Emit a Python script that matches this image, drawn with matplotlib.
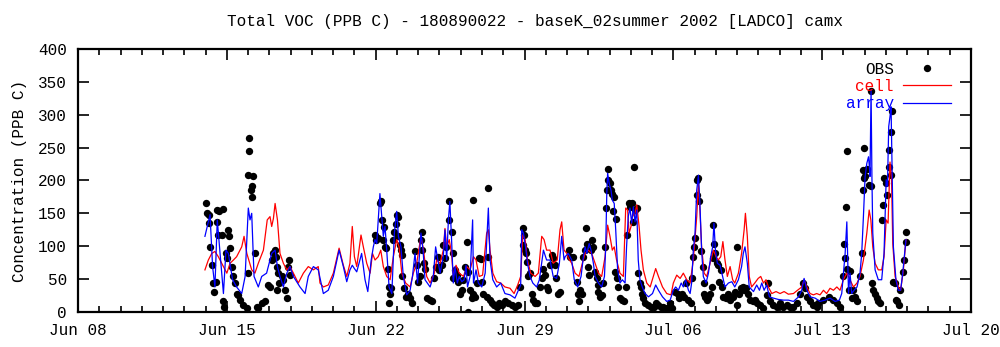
import numpy as np
import pandas as pd
import matplotlib
matplotlib.use("Agg")
import matplotlib.pyplot as plt
import matplotlib.dates as mdates

# time is given as days since 2002-06-08 00:00
t0 = pd.Timestamp("2002-06-08")

# ---- model "cell" (red)
cell_day = [5.97, 6.13, 6.29, 6.44, 6.60, 6.84, 7.00, 7.15, 7.31, 7.46, 7.70, 7.81, 7.94, 8.17, 8.32,
            8.48, 8.72, 8.90, 9.03, 9.11, 9.19, 9.27, 9.38, 9.50, 9.66, 9.82, 9.97, 10.13, 10.36, 10.60,
            10.83, 11.07, 11.30, 11.38, 11.54, 11.77, 12.01, 12.28, 12.48, 12.64, 12.79, 12.90, 13.00,
            13.11, 13.31, 13.42, 13.58, 13.74, 13.85, 13.97, 14.12, 14.24, 14.36, 14.52, 14.68, 14.83,
            14.99, 15.10, 15.23, 15.41, 15.62, 15.77, 15.93, 16.13, 16.25, 16.40, 16.56, 16.76, 16.87,
            17.03, 17.18, 17.26, 17.34, 17.46, 17.57, 17.65, 17.78, 17.93, 18.13, 18.28, 18.44, 18.60,
            18.72, 18.87, 19.03, 19.22, 19.30, 19.38, 19.51, 19.69, 19.88, 20.08, 20.32, 20.51, 20.68,
            20.82, 20.92, 21.03, 21.14, 21.29, 21.50, 21.65, 21.81, 21.92, 22.04, 22.20, 22.35, 22.54,
            22.67, 22.75, 22.86, 22.99, 23.06, 23.22, 23.38, 23.56, 23.72, 23.85, 24.00, 24.16, 24.32,
            24.48, 24.63, 24.79, 24.91, 25.02, 25.13, 25.22, 25.33, 25.49, 25.65, 25.76, 25.85, 25.92,
            26.01, 26.09, 26.17, 26.28, 26.39, 26.48, 26.59, 26.75, 26.91, 27.06, 27.17, 27.30, 27.49,
            27.69, 27.89, 28.00, 28.16, 28.32, 28.47, 28.63, 28.79, 28.94, 29.10, 29.18, 29.25, 29.33,
            29.45, 29.57, 29.73, 29.88, 30.01, 30.11, 30.23, 30.33, 30.43, 30.54, 30.67, 30.79, 30.89,
            31.06, 31.21, 31.33, 31.39, 31.48, 31.57, 31.68, 31.83, 31.99, 32.11, 32.24, 32.36, 32.47,
            32.63, 32.83, 33.02, 33.21, 33.41, 33.65, 33.84, 34.04, 34.15, 34.28, 34.43, 34.59, 34.74,
            34.90, 35.06, 35.21, 35.37, 35.53, 35.69, 35.84, 36.00, 36.16, 36.31, 36.47, 36.64, 36.78,
            36.94, 37.10, 37.21, 37.29, 37.38, 37.49, 37.64, 37.80, 37.91, 38.01, 38.10, 38.19, 38.26,
            38.32, 38.43, 38.58, 38.69, 38.82, 38.94]
cell_val = [64, 79, 89, 92, 84, 69, 59, 74, 79, 84, 99, 115, 89, 64, 59,
            74, 94, 140, 145, 130, 142, 165, 140, 89, 74, 64, 69, 59, 44, 59,
            69, 64, 69, 44, 38, 41, 59, 97, 71, 54, 74, 130, 84,
            69, 117, 99, 74, 59, 89, 79, 84, 94, 69, 54, 49, 84,
            110, 99, 59, 44, 38, 59, 74, 115, 94, 54, 44, 59, 79,
            74, 94, 127, 99, 110, 89, 54, 71, 59, 54, 69, 64, 84,
            79, 54, 56, 120, 125, 94, 59, 46, 44, 38, 36, 28, 41,
            54, 117, 110, 79, 59, 54, 59, 115, 110, 94, 94, 74, 79,
            125, 137, 94, 89, 82, 74, 59, 54, 74, 89, 94, 89, 74,
            59, 54, 84, 132, 115, 94, 99, 79, 59, 54, 158, 155, 120,
            130, 150, 145, 163, 130, 94, 64, 44, 38, 54, 66, 54, 38,
            28, 26, 44, 56, 51, 59, 49, 44, 79, 145, 196, 155, 99,
            59, 54, 74, 94, 84, 79, 84, 107, 79, 54, 69, 49, 44,
            59, 89, 125, 150, 115, 54, 38, 44, 51, 54, 44, 49, 38,
            28, 31, 28, 31, 27, 28, 33, 38, 49, 38, 28, 26, 28,
            26, 33, 28, 36, 33, 38, 33, 49, 59, 49, 38, 44, 54,
            79, 120, 155, 140, 99, 74, 64, 64, 84, 140, 135, 228, 206,
            104, 54, 38, 33, 64, 110]

# ---- model "array" (blue)
array_day = [5.97, 6.08, 6.21, 6.33, 6.44, 6.55, 6.71, 6.84, 6.96, 7.07, 7.27, 7.46, 7.70, 7.86, 8.01,
             8.09, 8.17, 8.28, 8.48, 8.64, 8.87, 9.11, 9.27, 9.38, 9.50, 9.66, 9.82, 9.97, 10.13, 10.44,
             10.68, 10.83, 11.07, 11.30, 11.54, 11.77, 12.01, 12.28, 12.48, 12.64, 12.79, 12.90, 13.00,
             13.11, 13.34, 13.50, 13.63, 13.79, 13.89, 13.97, 14.05, 14.20, 14.28, 14.36, 14.44, 14.52,
             14.63, 14.76, 14.88, 14.99, 15.07, 15.19, 15.30, 15.46, 15.62, 15.73, 15.85, 15.97, 16.13,
             16.23, 16.32, 16.56, 16.71, 16.82, 16.95, 17.03, 17.18, 17.26, 17.34, 17.42, 17.49, 17.57,
             17.65, 17.73, 17.84, 17.93, 18.05, 18.16, 18.25, 18.32, 18.44, 18.56, 18.60, 18.72, 18.83,
             18.99, 19.15, 19.30, 19.38, 19.51, 19.69, 19.88, 20.08, 20.32, 20.55, 20.71, 20.82, 20.87,
             20.95, 21.07, 21.14, 21.26, 21.39, 21.57, 21.70, 21.89, 22.04, 22.20, 22.35, 22.51, 22.64,
             22.75, 22.86, 22.91, 23.06, 23.22, 23.34, 23.50, 23.66, 23.77, 23.85, 23.93, 24.04, 24.13,
             24.24, 24.32, 24.48, 24.63, 24.76, 24.82, 24.87, 24.91, 24.98, 25.07, 25.13, 25.22, 25.29,
             25.38, 25.49, 25.60, 25.73, 25.80, 25.88, 25.96, 26.04, 26.12, 26.20, 26.28, 26.35, 26.43,
             26.54, 26.67, 26.83, 27.02, 27.17, 27.30, 27.49, 27.69, 27.85, 28.00, 28.11, 28.24, 28.37,
             28.47, 28.58, 28.71, 28.79, 28.86, 28.94, 29.02, 29.10, 29.18, 29.25, 29.33, 29.41, 29.54,
             29.65, 29.76, 29.85, 29.91, 29.98, 30.07, 30.20, 30.32, 30.43, 30.59, 30.75, 30.89, 31.06,
             31.21, 31.29, 31.37, 31.48, 31.57, 31.77, 31.92, 32.05, 32.16, 32.27, 32.39, 32.52, 32.71,
             32.94, 33.18, 33.41, 33.65, 33.89, 34.04, 34.15, 34.28, 34.43, 34.67, 34.90, 35.14, 35.37,
             35.61, 35.81, 35.92, 36.00, 36.08, 36.16, 36.24, 36.31, 36.39, 36.50, 36.64, 36.78, 36.86,
             36.94, 37.02, 37.10, 37.18, 37.22, 37.25, 37.30, 37.34, 37.38, 37.49, 37.64, 37.80, 37.91,
             38.01, 38.07, 38.13, 38.19, 38.24, 38.28, 38.35, 38.47, 38.58, 38.69, 38.79, 38.85, 38.94]
array_val = [115, 130, 148, 69, 38, 140, 79, 28, 94, 89, 49, 38, 28, 54, 158,
             140, 150, 54, 38, 54, 59, 89, 94, 69, 54, 38, 59, 69, 54, 38,
             28, 54, 69, 64, 28, 33, 54, 94, 69, 46, 64, 71, 66,
             61, 89, 49, 31, 79, 99, 110, 104, 180, 148, 115, 130, 94,
             38, 28, 120, 153, 115, 99, 54, 26, 33, 54, 89, 44, 120,
             94, 49, 38, 54, 99, 74, 59, 84, 125, 79, 140, 168, 110,
             44, 69, 44, 54, 46, 49, 71, 38, 54, 140, 44, 64, 44,
             38, 59, 158, 79, 49, 38, 44, 28, 26, 21, 33, 41, 125,
             120, 94, 74, 54, 44, 38, 49, 94, 79, 79, 54, 51, 74,
             115, 79, 84, 89, 79, 49, 38, 54, 84, 99, 89, 104, 94,
             74, 54, 44, 38, 54, 99, 180, 211, 196, 185, 170, 165, 125,
             64, 44, 49, 44, 99, 145, 158, 135, 160, 137, 155, 79, 49,
             38, 28, 23, 28, 41, 33, 23, 16, 18, 33, 38, 33, 44,
             38, 49, 33, 28, 44, 94, 120, 185, 208, 165, 94, 54, 44,
             59, 84, 99, 135, 94, 74, 71, 54, 38, 44, 46, 38, 49,
             69, 89, 99, 74, 38, 31, 41, 33, 44, 33, 41, 23, 21,
             19, 18, 18, 16, 23, 33, 51, 33, 23, 21, 16, 18, 21,
             16, 18, 28, 59, 89, 137, 28, 59, 28, 33, 38, 59, 89,
             145, 206, 226, 236, 221, 206, 338, 206, 120, 64, 49, 49, 89,
             201, 191, 282, 297, 312, 231, 99, 49, 33, 33, 59, 79, 110]

# ---- observations
obs_day = [6.02, 6.05, 6.18, 6.14, 6.21, 6.29, 6.37, 6.40, 6.49, 6.52, 6.65, 6.84, 6.55, 6.60, 6.76,
           7.07, 7.12, 7.15, 6.96, 7.02, 7.23, 7.27, 7.38, 6.84, 6.88, 7.46, 7.54, 7.62, 7.78, 7.93,
           8.01, 8.06, 8.03, 8.00, 8.22, 8.17, 8.14, 8.19, 8.33, 8.41, 8.48, 8.64, 8.80, 8.95, 9.03,
           9.11, 9.19, 9.27, 9.32, 9.35, 9.43, 9.47, 9.38, 9.58, 9.66, 9.74, 9.82, 9.89, 9.94, 9.97,
           13.97, 14.02, 14.10, 14.25, 14.21, 14.32, 14.40, 14.36, 14.44, 14.49, 14.57, 14.63, 14.68,
           14.63, 14.72, 14.83, 14.88, 14.94, 14.99, 15.04, 15.07, 15.15, 15.19, 15.22, 15.26, 15.35,
           15.41, 15.50, 15.62, 15.73, 15.85, 15.93, 16.01, 16.09, 16.13, 16.20, 16.16, 16.25, 16.32,
           16.43, 16.56, 16.64, 16.76, 16.82, 16.92, 16.98, 17.10, 17.16,
           17.26, 17.31, 17.47, 17.47, 17.58, 17.63, 17.65, 17.73, 17.81, 17.89, 17.97, 18.05, 18.13,
           18.21, 18.28, 18.36, 18.44, 18.52, 18.56, 18.60, 18.68, 18.75, 18.87, 18.94, 18.99, 19.07,
           19.22, 19.27, 19.30, 19.38, 19.46, 19.56, 19.69, 19.82, 19.93, 20.08, 20.24, 20.40, 20.55,
           20.71, 20.79, 20.91, 20.98, 20.95, 21.03, 21.07, 21.14, 21.18, 21.26, 21.34, 21.41, 21.50,
           21.57, 21.73, 21.81, 21.89, 21.96, 22.04, 22.12, 22.20, 22.28, 22.35, 22.43, 22.48, 22.59,
           22.67, 18.34,
           23.09, 23.14, 23.30, 23.46, 23.50, 23.56, 23.61, 23.69, 23.77, 23.89, 23.85, 23.93, 24.04,
           24.01, 24.13, 24.19, 24.24, 24.32, 24.40, 24.44, 24.48, 24.55, 24.63, 24.71, 24.79, 24.82,
           24.87, 24.91, 24.95, 25.02, 25.07, 25.13, 25.22, 25.18, 25.29, 25.26, 25.33, 25.41, 25.49,
           25.60, 25.70, 25.76, 25.84, 25.92, 25.96, 26.04, 26.09, 26.15, 26.20, 26.28, 26.35, 26.42,
           26.48, 26.53, 26.59, 26.67, 26.79, 26.95, 27.07, 27.17, 27.30, 27.42, 27.53, 27.69, 27.85,
           27.96, 28.08, 28.21, 28.27, 28.39, 28.52, 28.58, 28.71, 28.83,
           28.86, 28.94, 28.98, 29.02, 29.10, 29.13, 29.18, 29.23, 29.29, 29.38, 29.45, 29.42, 29.49,
           29.57, 29.65, 29.73, 29.80, 29.85, 29.88, 29.91, 29.96, 30.04, 30.12, 30.17, 30.23, 30.28,
           30.35, 30.48, 30.59, 30.67, 30.79, 30.90, 30.98, 31.01, 31.11, 31.17, 31.26, 31.33, 31.42,
           31.53, 31.61, 31.74, 31.84, 31.92, 32.08, 32.24, 32.39, 32.47, 32.55, 32.71, 32.86, 33.02,
           33.18, 33.33, 33.49, 33.65, 33.80, 33.96, 34.12, 34.19, 34.30, 34.43, 34.59, 34.74,
           34.82, 35.06, 35.30, 35.53, 35.69, 35.84, 36.00, 36.05, 36.12, 36.18, 36.07, 36.18, 36.27,
           36.31, 36.39, 36.46, 36.54, 36.65, 36.78, 36.86, 36.91, 36.94, 36.99, 36.97, 37.02, 37.10,
           37.19, 37.30, 37.28, 37.35, 37.41, 37.49, 37.56, 37.64, 37.72, 37.80, 37.88, 37.93, 38.01,
           38.07, 38.13, 38.16, 38.22, 38.27, 38.22, 38.35, 38.43, 38.47, 38.53, 38.61, 38.67, 38.79,
           38.86, 38.92, 38.95]
obs_val = [165, 150, 148, 135, 99, 71, 44, 31, 46, 155, 154, 156, 137, 117, 117,
           125, 115, 97, 89, 82, 69, 54, 44, 16, 8, 28, 26, 18, 11, 6,
           59, 264, 245, 209, 207, 192, 186, 175, 89, 8, 6, 13, 16, 41, 38,
           79, 89, 94, 84, 69, 59, 44, 33, 54, 49, 33, 21, 69, 79, 56,
           117, 110, 112, 168, 165, 140, 129, 110, 99, 97, 66, 38, 28,
           13, 36, 110, 122, 134, 148, 145, 115, 102, 94, 87, 54, 36,
           23, 28, 21, 13, 92, 71, 46, 54, 110, 122, 94, 74, 66,
           21, 18, 16, 51, 69, 84, 64, 71, 102,
           82, 99, 168, 140, 122, 89, 51, 64, 56, 46, 28, 33, 49,
           69, 107, 61, 33, 21, 170, 28, 23, 44, 82, 80, 46, 28,
           23, 188, 84, 18, 13, 11, 8, 13, 11, 16, 13, 11, 8,
           11, 38, 127, 117, 102, 94, 89, 76, 54, 59, 28, 18, 13,
           13, 38, 51, 66, 56, 38, 33, 71, 87, 82, 71, 51, 28,
           31, 0,
           94, 84, 84, 46, 28, 16, 33, 28, 84, 127, 94, 104, 56,
           69, 94, 110, 99, 61, 51, 41, 31, 23, 26, 44, 99, 158,
           185, 218, 201, 196, 185, 180, 175, 153, 142, 61, 51, 38, 21,
           18, 16, 38, 117, 165, 160, 165, 137, 220, 155, 158, 59, 44,
           38, 28, 21, 13, 11, 8, 8, 13, 11, 8, 8, 6, 13,
           6, 31, 28, 21, 28, 23, 44, 18, 13,
           51, 84, 99, 112, 178, 201, 203, 168, 92, 69, 44, 28, 23,
           18, 21, 28, 38, 82, 132, 104, 89, 74, 71, 46, 64, 38,
           23, 21, 28, 18, 23, 31, 99, 11, 28, 36, 38, 33, 36,
           28, 18, 16, 18, 13, 11, 6, 26, 44, 16, 11, 8, 13,
           8, 11, 8, 8, 13, 28, 44, 36, 23, 16, 11, 8,
           13, 18, 23, 18, 13, 8, 54, 104, 160, 245, 82, 66, 33,
           63, 21, 33, 23, 16, 54, 89, 186, 216, 249, 203, 206, 218,
           193, 336, 192, 44, 33, 28, 21, 16, 13, 140, 163, 203, 196,
           178, 221, 246, 274, 305, 208, 46, 44, 18, 16, 11, 33, 61,
           79, 107, 121]

title = "Total VOC (PPB C) - 180890022 - baseK_02summer 2002 [LADCO] camx"
y_label = "Concentration (PPB C)"
week_ticks = ["2002-06-08", "2002-06-15", "2002-06-22", "2002-06-29",
              "2002-07-06", "2002-07-13", "2002-07-20"]


def to_time(days):
    return t0 + pd.to_timedelta(np.asarray(days), unit="D")


plt.rcParams["font.family"] = ["Liberation Mono", "DejaVu Sans Mono"]
plt.rcParams["font.size"] = 11.5

fig = plt.figure(figsize=(10, 3.47), dpi=100)
ax = fig.add_axes([0.078, 0.101, 0.893, 0.758])

ax.plot(to_time(obs_day), obs_val, "o", color="black", ms=5.3, mew=0, ls="none", label="OBS")
ax.plot(to_time(cell_day), cell_val, "-", color="#ff0000", lw=0.9, label="cell")
ax.plot(to_time(array_day), array_val, "-", color="#0000ff", lw=0.9, label="array")

ax.set_xlim(pd.Timestamp(week_ticks[0]), pd.Timestamp(week_ticks[-1]))
ax.set_ylim(0, 400)
ax.set_xticks(pd.to_datetime(week_ticks))
ax.xaxis.set_major_formatter(mdates.DateFormatter("%b %d"))
ax.xaxis.set_minor_locator(mdates.DayLocator())
ax.set_yticks(np.arange(0, 401, 50))

ax.tick_params(which="both", direction="in", top=True, right=True, width=1.2)
ax.tick_params(which="major", length=8)
ax.tick_params(which="minor", length=4)
ax.tick_params(axis="x", which="major", pad=8)
ax.tick_params(axis="y", which="major", pad=8)
for s in ax.spines.values():
    s.set_linewidth(1.6)

ax.set_ylabel(y_label)
ax.yaxis.set_label_coords(-0.057, 0.5)
fig.text(0.535, 0.937, title, ha="center", va="center")

ax.legend(loc="upper right", bbox_to_anchor=(0.978, 0.952), frameon=False, markerfirst=False,
          labelcolor=["black", "red", "blue"], handlelength=3.0, handletextpad=0.6,
          labelspacing=0.15, borderaxespad=0, borderpad=0)

fig.savefig("out.png", dpi=100)
